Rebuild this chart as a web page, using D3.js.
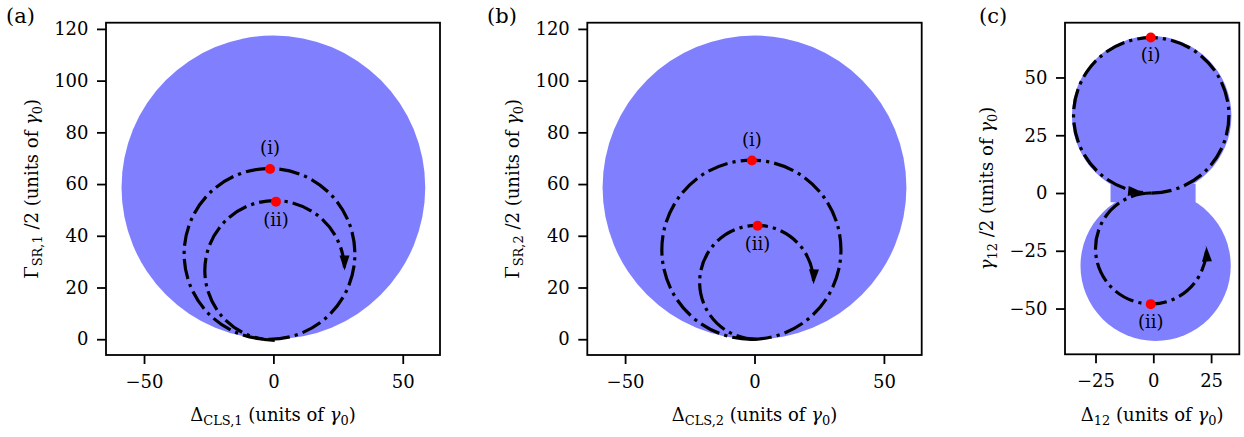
<!DOCTYPE html>
<html>
<head>
<meta charset="utf-8">
<script src="https://cdn.jsdelivr.net/npm/d3@7"></script>
<style>
  body { margin: 0; background: #fff; }
  text { font-family: "DejaVu Serif", serif; fill: #000; }
</style>
</head>
<body>
<svg id="fig" width="1244" height="437"></svg>
<script>
// tick values
const ticksXab = [-50, 0, 50];
const ticksYab = [0, 20, 40, 60, 80, 100, 120];
const ticksXc = [-25, 0, 25];
const ticksYc = [-50, -25, 0, 25, 50];

// axis limits [min, max]
const limXa = [-64.7, 64.4], limYa = [-6.1, 122.4];
const limXb = [-64.6, 64.6], limYb = [-6.1, 122.4];
const limXc = [-38.2, 37.2], limYc = [-69.8, 73.7];

// stable region, disks [cx, cy, r]
const regionA = [[0, 58.7, 58.7]];
const regionB = [[0, 58.7, 58.7]];
const regionC = [[-0.7, 33.4, 34.5], [1.0, -31.5, 32.5]];
// neck joining the two disks of (c) [x0, y0, x1, y1]
const neckC = [[-18.5, -4, 18.3, 4]];

// trajectories [cx, cy, r, startDeg, endDeg, arrow]
const trajA = [[-1.5, 33, 33, -90, 270, 0], [0.5, 26.6, 27, -90, -360, 1]];
const trajB = [[-1.2, 34.6, 34.6, -90, 270, 0], [0.8, 22, 22, -90, -362, 1]];
const trajC = [[-0.9, 33.6, 33.6, -90, 264, 1], [-1, -24, 24, 90, 362, 1]];

// marked points [x, y, label]
const ptsA = [[-1.3, 65.8, "(i)"], [1.0, 53.2, "(ii)"]];
const ptsB = [[-1.0, 69.1, "(i)"], [1.2, 43.9, "(ii)"]];
const ptsC = [[-1.1, 67.3, "(i)"], [-1.1, -48.1, "(ii)"]];
const sideA = ["above", "below"], sideB = ["above", "below"], sideC = ["below", "below"];

const svg = d3.select("#fig");
const fs = 18;
const blue = "#8080ff";

const panels = [
    {tag: "(a)", tagX: 6, box: [106, 22.7, 440, 355], limX: limXa, limY: limYa, tx: ticksXab, ty: ticksYab,
     region: regionA, neck: [], traj: trajA, pts: ptsA, side: sideA,
     xl: ["Δ", "CLS,1"], yl: ["Γ", "SR,1"], ylX: 38},
    {tag: "(b)", tagX: 487, box: [587.3, 22.7, 921.7, 355], limX: limXb, limY: limYb, tx: ticksXab, ty: ticksYab,
     region: regionB, neck: [], traj: trajB, pts: ptsB, side: sideB,
     xl: ["Δ", "CLS,2"], yl: ["Γ", "SR,2"], ylX: 519},
    {tag: "(c)", tagX: 979, box: [1065, 22.7, 1239.3, 354.3], limX: limXc, limY: limYc, tx: ticksXc, ty: ticksYc,
     region: regionC, neck: neckC, traj: trajC, pts: ptsC, side: sideC,
     xl: ["Δ", "12"], yl: ["γ", "12"], ylX: 993}
];

function fmt(d) { return d < 0 ? "\u2212" + Math.abs(d) : String(d); }

function addUnits(t) {
    t.append("tspan").attr("font-style", "italic").text("γ");
    t.append("tspan").attr("font-size", fs * 0.72).attr("dy", fs * 0.22).text("0");
    t.append("tspan").attr("dy", -fs * 0.22).text(")");
}

panels.forEach(p => {
    let [x0, y0, x1, y1] = p.box;
    let x = d3.scaleLinear().domain(p.limX).range([x0, x1]);
    let y = d3.scaleLinear().domain(p.limY).range([y1, y0]);
    let g = svg.append("g");
    let rpx = r => x(r) - x(0);

    let clip = "clip" + p.tag.replace(/[()]/g, "");
    svg.append("clipPath").attr("id", clip).append("rect")
        .attr("x", x0).attr("y", y0).attr("width", x1 - x0).attr("height", y1 - y0);
    let plot = g.append("g").attr("clip-path", `url(#${clip})`);

    // stable region
    plot.selectAll("circle.reg").data(p.region).enter().append("circle")
        .attr("class", "reg")
        .attr("cx", d => x(d[0])).attr("cy", d => y(d[1])).attr("r", d => rpx(d[2]))
        .attr("fill", blue);
    plot.selectAll("rect.neck").data(p.neck).enter().append("rect")
        .attr("class", "neck")
        .attr("x", d => x(d[0])).attr("y", d => y(d[3]))
        .attr("width", d => x(d[2]) - x(d[0])).attr("height", d => y(d[1]) - y(d[3]))
        .attr("fill", blue);

    // trajectories
    plot.selectAll("path.traj").data(p.traj).enter().append("path")
        .attr("class", "traj")
        .attr("d", d => {
            let path = d3.path();
            let a0 = d[3] * Math.PI / 180, a1 = d[4] * Math.PI / 180;
            path.arc(x(d[0]), y(d[1]), rpx(d[2]), -a0, -a1, a1 > a0);
            return path.toString();
        })
        .attr("fill", "none").attr("stroke", "#000").attr("stroke-width", 3.2)
        .attr("stroke-dasharray", "20.5 5.1 3.2 5.1");

    // arrow heads
    plot.selectAll("path.head").data(p.traj.filter(d => d[5])).enter().append("path")
        .attr("class", "head")
        .attr("d", d => {
            let th = d[4] * Math.PI / 180;
            let ccw = d[4] > d[3];
            let ex = x(d[0] + d[2] * Math.cos(th)), ey = y(d[1] + d[2] * Math.sin(th));
            let ux = ccw ? -Math.sin(th) : Math.sin(th);
            let uy = ccw ? -Math.cos(th) : Math.cos(th);
            let L = 15, W = 5;
            let bx = ex - L * ux, by = ey - L * uy;
            return `M${ex},${ey}L${bx - W * uy},${by + W * ux}L${bx + W * uy},${by - W * ux}Z`;
        })
        .attr("fill", "#000");

    // marked points
    plot.selectAll("circle.pt").data(p.pts).enter().append("circle")
        .attr("class", "pt")
        .attr("cx", d => x(d[0])).attr("cy", d => y(d[1])).attr("r", 5)
        .attr("fill", "#ff0000");
    g.selectAll("text.pt").data(p.pts).enter().append("text")
        .attr("class", "pt")
        .attr("x", d => x(d[0])).attr("y", (d, i) => y(d[1]) + (p.side[i] == "above" ? -15 : 24))
        .attr("text-anchor", "middle").attr("font-size", 18)
        .text(d => d[2]);

    // axes
    let ax = g.append("g").attr("transform", `translate(0,${y1})`)
        .call(d3.axisBottom(x).tickValues(p.tx).tickSize(9).tickPadding(11).tickFormat(fmt).tickSizeOuter(0));
    let ay = g.append("g").attr("transform", `translate(${x0},0)`)
        .call(d3.axisLeft(y).tickValues(p.ty).tickSize(9).tickPadding(8.5).tickFormat(fmt).tickSizeOuter(0));
    [ax, ay].forEach(a => {
        a.select(".domain").remove();
        a.selectAll("line").attr("stroke", "#000").attr("stroke-width", 1.8);
        a.selectAll("text").attr("font-size", fs).attr("font-family", "DejaVu Serif").attr("fill", "#000");
    });

    g.append("rect").attr("x", x0).attr("y", y0).attr("width", x1 - x0).attr("height", y1 - y0)
        .attr("fill", "none").attr("stroke", "#000").attr("stroke-width", 1.8);

    // axis labels
    let tx = g.append("text").attr("x", (x0 + x1) / 2).attr("y", 421)
        .attr("text-anchor", "middle").attr("font-size", fs);
    tx.append("tspan").text(p.xl[0]);
    tx.append("tspan").attr("font-size", fs * 0.72).attr("dy", fs * 0.22).text(p.xl[1]);
    tx.append("tspan").attr("dy", -fs * 0.22).text(" (units of ");
    addUnits(tx);

    let ty = g.append("text")
        .attr("transform", `translate(${p.ylX},${(y0 + y1) / 2}) rotate(-90)`)
        .attr("text-anchor", "middle").attr("font-size", fs);
    let mainY = ty.append("tspan").text(p.yl[0]);
    if (p.yl[0] == "γ") mainY.attr("font-style", "italic");
    ty.append("tspan").attr("font-size", fs * 0.72).attr("dy", fs * 0.22).text(p.yl[1]);
    ty.append("tspan").attr("dy", -fs * 0.22).text(" /2 (units of ");
    addUnits(ty);

    // panel tag
    g.append("text").attr("x", p.tagX).attr("y", 23).attr("font-size", 21).text(p.tag);
});
</script>
</body>
</html>
